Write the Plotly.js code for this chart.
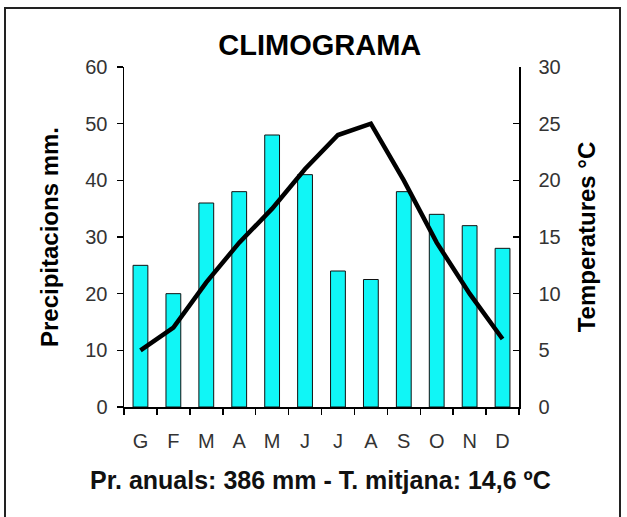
<!DOCTYPE html>
<html>
<head>
<meta charset="utf-8">
<script src="https://cdn.plot.ly/plotly-3.0.1.min.js"></script>
<style>
  html, body { margin: 0; padding: 0; background: #fff; }
  #wrap { position: relative; width: 627px; height: 517px; overflow: hidden; }
  #chart { position: absolute; left: 0; top: 0; width: 627px; height: 517px; }
  #frame { position: absolute; left: 4px; top: 7px; width: 617px; height: 530px;
           border: 2px solid #222; pointer-events: none; box-sizing: border-box; }
</style>
</head>
<body>
<div id="wrap">
  <div id="chart"></div>
  <div id="frame"></div>
</div>
<script>
const months = ['G','F','M','A','M ','J','J ','A ','S','O','N','D'];
const monthLabels = ['G','F','M','A','M','J','J','A','S','O','N','D'];
const precipitation = [25, 20, 36, 38, 48, 41, 24, 22.5, 38, 34, 32, 28];
const temperature = [5, 7, 11, 14.5, 17.5, 21, 24, 25, 20, 14.5, 10, 6];
const precipTicks = [0, 10, 20, 30, 40, 50, 60];
const tempTicks = [0, 5, 10, 15, 20, 25, 30];
const boundaries = [-0.5, 0.5, 1.5, 2.5, 3.5, 4.5, 5.5, 6.5, 7.5, 8.5, 9.5, 10.5, 11.5];

const font = 'Liberation Sans, Arial, sans-serif';
const tickColor = '#333';

const traces = [
  {
    type: 'bar', x: months, y: precipitation, xaxis: 'x', yaxis: 'y',
    marker: { color: '#10f6f6', line: { color: '#111', width: 1 } },
    hoverinfo: 'skip', showlegend: false
  },
  {
    type: 'scatter', mode: 'lines', x: months, y: temperature, xaxis: 'x', yaxis: 'y2',
    line: { color: '#000', width: 4.5 }, hoverinfo: 'skip', showlegend: false
  }
];

const layout = {
  width: 627, height: 517,
  margin: { l: 124, r: 108, t: 67, b: 110 },
  paper_bgcolor: '#fff', plot_bgcolor: '#fff',
  showlegend: false,
  bargap: 0.55,
  title: {
    text: '<b>CLIMOGRAMA</b>', x: 0.51, xanchor: 'center', y: 0.913, yanchor: 'middle',
    font: { family: font, size: 29, color: '#000' }
  },
  xaxis: {
    type: 'category', tickmode: 'array', tickvals: months, ticktext: monthLabels,
    tickson: 'boundaries', ticks: 'outside', ticklen: 6, tickwidth: 1.5, tickcolor: '#000',
    showline: true, linecolor: '#000', linewidth: 1.5, showgrid: false, zeroline: false,
    tickfont: { family: font, size: 20, color: tickColor }, ticklabelstandoff: 15,
    range: [-0.5, 11.5], fixedrange: true
  },
  xaxis2: {
    overlaying: 'x', anchor: 'y', range: [-0.5, 11.5], tickmode: 'array', tickvals: boundaries,
    ticks: 'inside', ticklen: 3, tickwidth: 1.5, tickcolor: '#000', showticklabels: false,
    showline: false, showgrid: false, zeroline: false, fixedrange: true
  },
  yaxis: {
    range: [0, 60], tickmode: 'array', tickvals: precipTicks,
    ticks: 'outside', ticklen: 6, tickwidth: 1.5, tickcolor: '#000',
    showline: true, linecolor: '#000', linewidth: 1.5, showgrid: false, zeroline: false,
    tickfont: { family: font, size: 20, color: tickColor }, ticklabelstandoff: 5,
    title: { text: '<b>Precipitacions mm.</b>', standoff: 20, font: { family: font, size: 24, color: '#000' } },
    fixedrange: true
  },
  yaxis3: {
    overlaying: 'y', anchor: 'x', side: 'left', range: [0, 60], tickmode: 'array', tickvals: precipTicks,
    ticks: 'inside', ticklen: 4, tickwidth: 1.5, tickcolor: '#000', showticklabels: false,
    showline: false, showgrid: false, zeroline: false, fixedrange: true
  },
  yaxis2: {
    overlaying: 'y', side: 'right', anchor: 'x', range: [0, 30], tickmode: 'array', tickvals: tempTicks,
    ticks: 'inside', ticklen: 6, tickwidth: 1.5, tickcolor: '#000',
    showline: true, linecolor: '#000', linewidth: 1.5, showgrid: false, zeroline: false,
    tickfont: { family: font, size: 20, color: tickColor }, ticklabelstandoff: 14,
    title: { text: '<b>Temperatures °C</b>', standoff: 18, font: { family: font, size: 24, color: '#000' } },
    fixedrange: true
  },
  annotations: [
    {
      xref: 'paper', yref: 'paper', x: 0.498, y: -0.215, xanchor: 'center', yanchor: 'middle',
      showarrow: false,
      text: '<b>Pr. anuals: 386 mm - T. mitjana: 14,6 ºC</b>',
      font: { family: font, size: 25, color: '#111' }
    }
  ]
};

Plotly.newPlot('chart', traces, layout, { staticPlot: true, displayModeBar: false });
</script>
</body>
</html>
